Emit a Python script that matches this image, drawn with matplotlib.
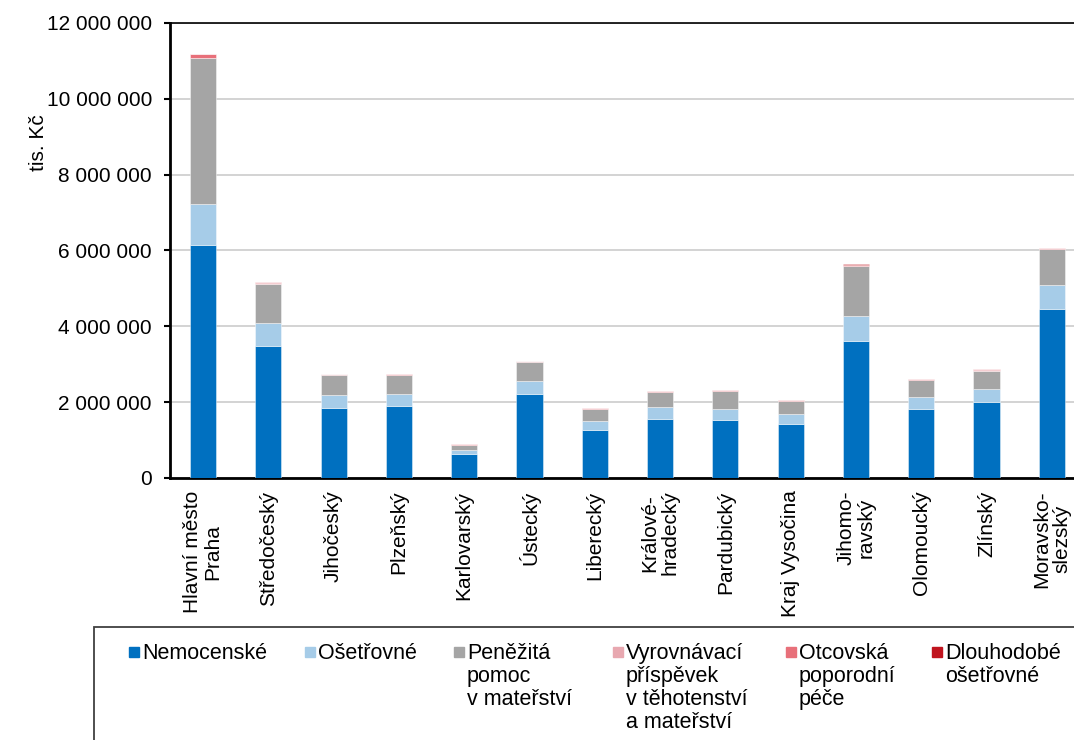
import numpy as np
import matplotlib
matplotlib.use("Agg")
import matplotlib.pyplot as plt
from matplotlib.patches import Rectangle
from matplotlib.ticker import FuncFormatter, MultipleLocator

plt.rcParams["font.family"] = ["Liberation Sans", "DejaVu Sans"]

# kraje a dávky (tis. Kč)
kraje = ["Hlavní město\nPraha", "Středočeský", "Jihočeský", "Plzeňský",
         "Karlovarský", "Ústecký", "Liberecký", "Králové-\nhradecký",
         "Pardubický", "Kraj Vysočina", "Jihomo-\nravský", "Olomoucký",
         "Zlínský", "Moravsko-\nslezský"]

nemocenske = [6150000, 3490000, 1850000, 1910000, 640000, 2220000, 1270000,
              1560000, 1520000, 1420000, 3620000, 1830000, 2000000, 4460000]
osetrovne = [1080000, 600000, 340000, 310000, 110000, 340000, 230000,
             300000, 300000, 260000, 650000, 310000, 350000, 630000]
penezita = [3840000, 1030000, 530000, 490000, 120000, 510000, 310000,
            400000, 470000, 350000, 1320000, 440000, 480000, 940000]
vyrovnavaci = [20000, 10000, 10000, 10000, 5000, 5000, 10000,
               10000, 5000, 5000, 10000, 5000, 10000, 5000]
otcovska = [90000, 40000, 20000, 30000, 20000, 15000, 20000,
            20000, 25000, 20000, 30000, 20000, 30000, 30000]
dlouhodobe = [10000, 8000, 3000, 3000, 2000, 3000, 2000,
              3000, 3000, 3000, 15000, 3000, 3000, 5000]

serie = [
    ("Nemocenské", nemocenske, "#0070C0"),
    ("Ošetřovné", osetrovne, "#A6CCE8"),
    ("Peněžitá\npomoc\nv mateřství", penezita, "#A5A5A5"),
    ("Vyrovnávací\npříspěvek\nv těhotenství\na mateřství", vyrovnavaci, "#E8A8B0"),
    ("Otcovská\npoporodní\npéče", otcovska, "#E8707A"),
    ("Dlouhodobé\nošetřovné", dlouhodobe, "#C0141E"),
]

W, H = 1074, 740
fig = plt.figure(figsize=(W / 100, H / 100), dpi=100)
ax = fig.add_axes([170 / W, 1 - 478 / H, (W - 170) / W, (478 - 23) / H])

x = np.arange(len(kraje))
spodek = np.zeros(len(kraje))
for nazev, hodnoty, barva in serie:
    ax.bar(x, hodnoty, 0.4, bottom=spodek, color=barva,
           edgecolor=(1, 1, 1, 0.5), linewidth=0.6, zorder=3)
    spodek += np.array(hodnoty)

ax.set_xlim(-0.505, 13.34)
ax.set_ylim(0, 12000000)
ax.yaxis.set_major_locator(MultipleLocator(2000000))
ax.yaxis.set_major_formatter(FuncFormatter(lambda v, p: f"{int(v):,}".replace(",", " ")))
ax.grid(axis="y", color="#C8C8C8", linewidth=1.1, zorder=0)
ax.set_axisbelow(True)

ax.spines["right"].set_visible(False)
ax.spines["left"].set_linewidth(2)
ax.spines["bottom"].set_linewidth(2)
ax.spines["top"].set_linewidth(1.2)
ax.tick_params(axis="y", direction="out", length=4, width=1.5, pad=9,
               labelsize=15)
ax.tick_params(axis="x", length=0, pad=9)

ax.set_xticks(x)
ax.set_xticklabels(kraje, rotation=90, fontsize=15, ha="center", va="top",
                   multialignment="center", linespacing=1.1)

fig.text(38 / W, 1 - 143 / H, "tis. Kč", rotation=90, fontsize=15,
         ha="center", va="center")

# legenda dole v rámečku
fig.patches.append(Rectangle((94 / W, -0.1), 1.2, 1 - 627 / H + 0.1,
                             transform=fig.transFigure, fill=False,
                             edgecolor="#404040", linewidth=1.3))
znacka_x = [129, 305, 454, 613, 786, 932]
for (nazev, hodnoty, barva), zx in zip(serie, znacka_x):
    fig.patches.append(Rectangle((zx / W, 1 - 657 / H), 10 / W, 10 / H,
                                 transform=fig.transFigure, color=barva))
    for i, radek in enumerate(nazev.split("\n")):
        fig.text((zx + 13) / W, 1 - (659 + 23 * i) / H, radek, fontsize=15.5,
                 ha="left", va="baseline")

fig.savefig("out.png", dpi=100)
